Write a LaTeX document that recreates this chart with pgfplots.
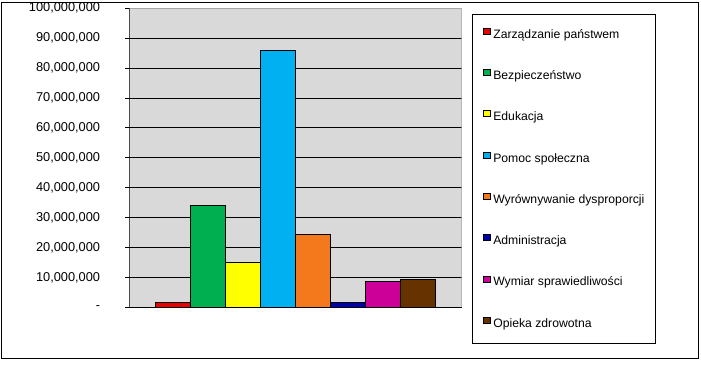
\documentclass[border=0pt]{standalone}
\usepackage{pgfplots}
\pgfplotsset{compat=1.18}
\usepackage{fontspec}
\setmainfont{Liberation Sans}
\definecolor{bg}{RGB}{217,217,217}
\definecolor{c1}{RGB}{230,0,0}
\definecolor{c2}{RGB}{0,176,80}
\definecolor{c3}{RGB}{255,255,0}
\definecolor{c4}{RGB}{0,176,240}
\definecolor{c5}{RGB}{244,121,28}
\definecolor{c6}{RGB}{0,0,170}
\definecolor{c7}{RGB}{204,0,153}
\definecolor{c8}{RGB}{102,51,0}
\begin{document}
\begin{tikzpicture}
\useasboundingbox (-129.3pt,-56.7pt) rectangle (571.7pt,307.3pt);
\draw[line width=0.8pt] (-127.8pt,-51pt) rectangle (569.2pt,305.3pt);
\begin{axis}[
  scale only axis, width=332.4pt, height=299pt,
  xmin=-1, xmax=1, ymin=0, ymax=100000000,
  ybar=0pt, bar width=35pt,
  xtick=\empty,
  ytick={0,10000000,20000000,30000000,40000000,50000000,60000000,70000000,80000000,90000000},
  yticklabels={{-\hspace{4pt}},10{,}000{,}000,20{,}000{,}000,30{,}000{,}000,40{,}000{,}000,50{,}000{,}000,60{,}000{,}000,70{,}000{,}000,80{,}000{,}000,90{,}000{,}000},
  extra y ticks={100000000},
  extra y tick labels={100{,}000{,}000},
  extra y tick style={grid=none},
  scaled y ticks=false,
  ytick pos=left, tick align=outside, major tick length=4pt,
  ymajorgrids, major grid style={black, line width=0.8pt},
  axis line style={draw=none},
  axis background/.style={fill=bg},
  tick style={black, line width=0.8pt},
  yticklabel style={font=\fontsize{12.8}{15}\selectfont, inner sep=0pt, anchor=east, xshift=-25pt},
  legend style={at={(axis description cs:1.031,0.981)}, anchor=north west, draw=black, line width=0.8pt,
    inner xsep=11pt, inner ysep=13.5pt, row sep=28pt, column sep=2.3pt,
    font=\fontsize{12.2}{14}\selectfont,
    nodes={inner sep=0pt, text height=9pt, text depth=3pt}},
  legend cell align=left,
  legend image code/.code={\draw[#1,draw=black,line width=0.6pt] (0pt,1pt) rectangle (7pt,7pt);},
  every axis plot/.append style={draw=black, line width=0.8pt},
]
\addplot[fill=c1] coordinates {(0,1700000)};
\addlegendentry{Zarządzanie państwem}
\addplot[fill=c2] coordinates {(0,34100000)};
\addlegendentry{Bezpieczeństwo}
\addplot[fill=c3] coordinates {(0,15000000)};
\addlegendentry{Edukacja}
\addplot[fill=c4] coordinates {(0,85900000)};
\addlegendentry{Pomoc społeczna}
\addplot[fill=c5] coordinates {(0,24400000)};
\addlegendentry{Wyrównywanie dysproporcji}
\addplot[fill=c6] coordinates {(0,1600000)};
\addlegendentry{Administracja}
\addplot[fill=c7] coordinates {(0,8800000)};
\addlegendentry{Wymiar sprawiedliwości}
\addplot[fill=c8] coordinates {(0,9400000)};
\addlegendentry{Opieka zdrowotna}
\draw[gray!70, line width=0.8pt] (rel axis cs:0,1) -- (rel axis cs:1,1) -- (rel axis cs:1,0);
\draw[black, line width=0.8pt] (rel axis cs:0,0) -- (rel axis cs:0,1);
\end{axis}
\end{tikzpicture}
\end{document}
